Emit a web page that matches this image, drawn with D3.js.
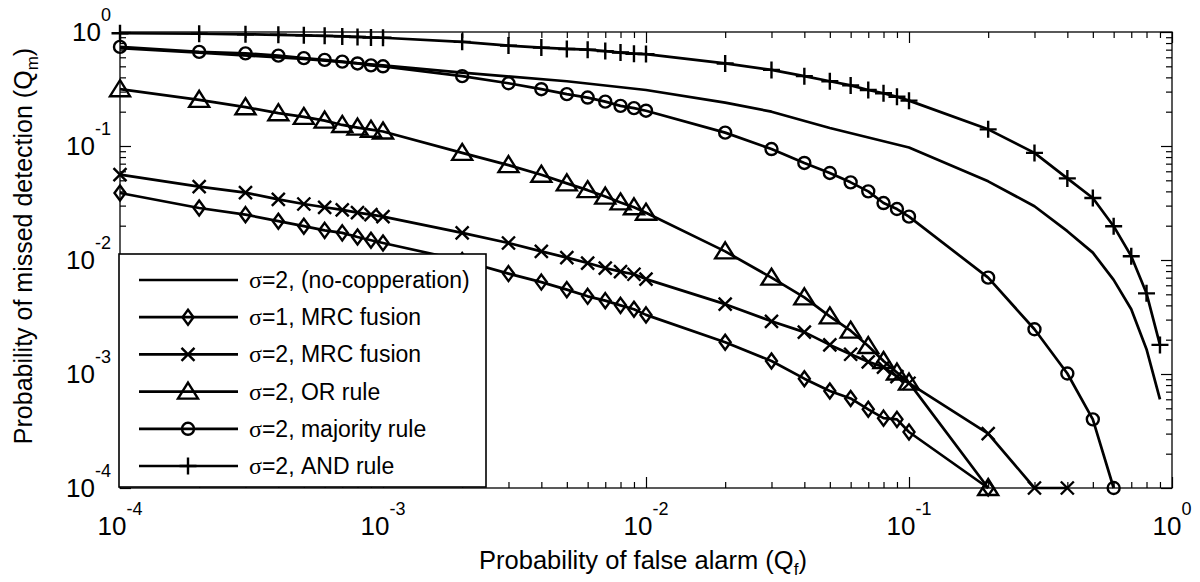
<!DOCTYPE html>
<html><head><meta charset="utf-8">
<script src="https://cdn.jsdelivr.net/npm/d3@7"></script>
<style>body{margin:0;background:#fff}svg{display:block}</style>
</head><body><svg id="c" width="1200" height="582"></svg>
<script>
// ---------- data ----------
const xGrid = [1e-4,2e-4,3e-4,4e-4,5e-4,6e-4,7e-4,8e-4,9e-4,
               1e-3,2e-3,3e-3,4e-3,5e-3,6e-3,7e-3,8e-3,9e-3,
               1e-2,2e-2,3e-2,4e-2,5e-2,6e-2,7e-2,8e-2,9e-2,
               0.1,0.2,0.3,0.4,0.5,0.6,0.7,0.8,0.9];
const xNoCoop = [1e-4,2e-4,5e-4,1e-3,2e-3,5e-3,1e-2,2e-2,3e-2,5e-2,0.1,0.2,0.3,0.4,0.5,0.6,0.7,0.8,0.9];
const yNoCoop = [0.72,0.66,0.58,0.51,0.44,0.37,0.31,0.24,0.2,0.144,0.097,0.049,0.0296,0.0179,0.0116,0.0067,0.0037,0.00165,0.0006];
const yMrc1 = [0.0387,0.0286,0.025,0.0219,0.0198,0.0182,0.0173,0.0159,0.0149,
               0.0141,0.0099,0.0076,0.0064,0.0055,0.0048,0.0044,0.004,0.0037,
               0.0033,0.0019,0.0013,0.00091,0.00071,0.00061,0.00049,0.00041,0.0004,
               0.00031,0.0001];
const yMrc2 = [0.056,0.044,0.039,0.034,0.031,0.029,0.0275,0.026,0.025,
               0.024,0.0173,0.0141,0.0119,0.0105,0.0094,0.0085,0.0079,0.0075,
               0.0068,0.0041,0.0029,0.00233,0.0018,0.00149,0.00128,0.00115,0.00095,
               0.00083,0.0003,0.0001,0.0001];
const yOr = [0.315,0.254,0.219,0.194,0.18,0.167,0.153,0.145,0.139,
             0.134,0.087,0.068,0.056,0.047,0.041,0.036,0.032,0.029,
             0.026,0.0119,0.007,0.0047,0.0032,0.0024,0.00176,0.0013,0.00103,
             0.00084,0.0001];
const yMaj = [0.74,0.67,0.65,0.62,0.59,0.57,0.55,0.53,0.51,
              0.50,0.41,0.355,0.315,0.285,0.266,0.245,0.225,0.215,
              0.204,0.131,0.094,0.071,0.058,0.048,0.040,0.0316,0.028,
              0.024,0.007,0.00247,0.00101,0.0004,0.0001];
const yAnd = [0.975,0.965,0.955,0.945,0.935,0.925,0.915,0.905,0.895,
              0.89,0.82,0.76,0.73,0.71,0.70,0.68,0.66,0.645,
              0.64,0.53,0.465,0.41,0.37,0.34,0.31,0.29,0.27,
              0.25,0.14,0.087,0.052,0.035,0.0198,0.0108,0.0051,0.0018];
const seriesNames = ["=2, (no-copperation)","=1, MRC fusion","=2, MRC fusion","=2, OR rule","=2, majority rule","=2, AND rule"];
const seriesMarkers = ["none","diamond","x","triangle","circle","plus"];
const majorTicks = [1e-4,1e-3,1e-2,1e-1,1];
const tickExps = ["-4","-3","-2","-1","0"];
const xTitle = "Probability of false alarm (Q";
const xTitleSub = "f";
const yTitle = "Probability of missed detection (Q";
const yTitleSub = "m";

// ---------- layout ----------
const L = 120, R = 1172, T = 32, B = 488;
const FONT = "'Liberation Sans', Arial, sans-serif";
const svg = d3.select("#c");
const x = d3.scaleLog().domain([1e-4, 1]).range([L, R]);
const y = d3.scaleLog().domain([1e-4, 1]).range([B, T]);

const minorTicks = [];
[1e-4,1e-3,1e-2,1e-1].forEach(d => { for (let k = 2; k <= 9; k++) minorTicks.push(d * k); });

function styleAxis(g) {
  g.select(".domain").remove();
  g.selectAll("line").attr("stroke", "#000").attr("stroke-width", 1.2);
}
svg.append("g").attr("transform", `translate(0,${B})`).call(d3.axisBottom(x).tickValues(majorTicks).tickSize(-11).tickFormat("")).call(styleAxis);
svg.append("g").attr("transform", `translate(0,${B})`).call(d3.axisBottom(x).tickValues(minorTicks).tickSize(-6).tickFormat("")).call(styleAxis);
svg.append("g").attr("transform", `translate(0,${T})`).call(d3.axisTop(x).tickValues(majorTicks).tickSize(-11).tickFormat("")).call(styleAxis);
svg.append("g").attr("transform", `translate(0,${T})`).call(d3.axisTop(x).tickValues(minorTicks).tickSize(-6).tickFormat("")).call(styleAxis);
svg.append("g").attr("transform", `translate(${L},0)`).call(d3.axisLeft(y).tickValues(majorTicks).tickSize(-11).tickFormat("")).call(styleAxis);
svg.append("g").attr("transform", `translate(${L},0)`).call(d3.axisLeft(y).tickValues(minorTicks).tickSize(-6).tickFormat("")).call(styleAxis);
svg.append("g").attr("transform", `translate(${R},0)`).call(d3.axisRight(y).tickValues(majorTicks).tickSize(-11).tickFormat("")).call(styleAxis);
svg.append("g").attr("transform", `translate(${R},0)`).call(d3.axisRight(y).tickValues(minorTicks).tickSize(-6).tickFormat("")).call(styleAxis);

svg.append("rect").attr("x", L).attr("y", T).attr("width", R - L).attr("height", B - T)
  .attr("fill", "none").attr("stroke", "#000").attr("stroke-width", 1.3);

// tick labels
const xl = svg.append("g").attr("font-family", FONT).attr("fill", "#000");
majorTicks.forEach((v, i) => {
  const t = xl.append("text").attr("x", x(v)).attr("y", 535).attr("text-anchor", "middle").attr("font-size", 26);
  t.append("tspan").text("10");
  t.append("tspan").attr("dy", -20).attr("font-size", 18).text(tickExps[i]);
  const u = xl.append("text").attr("x", 111).attr("y", y(v) + 9).attr("text-anchor", "end").attr("font-size", 26);
  u.append("tspan").text("10");
  u.append("tspan").attr("dy", -20).attr("font-size", 18).text(tickExps[i]);
});

// axis titles
const xt = svg.append("text").attr("x", 643).attr("y", 569).attr("text-anchor", "middle")
  .attr("font-family", FONT).attr("font-size", 25.5);
xt.append("tspan").text(xTitle);
xt.append("tspan").attr("font-size", 17).attr("dy", 6).text(xTitleSub);
xt.append("tspan").attr("dy", -6).text(")");
const yt = svg.append("text").attr("transform", "translate(32,246) rotate(-90)").attr("text-anchor", "middle")
  .attr("font-family", FONT).attr("font-size", 25);
yt.append("tspan").text(yTitle);
yt.append("tspan").attr("font-size", 17).attr("dy", 6).text(yTitleSub);
yt.append("tspan").attr("dy", -6).text(")");

// markers
const markerPath = {
  diamond: "M0,-7.5L5.5,0L0,7.5L-5.5,0Z",
  x: "M-6.5,-6.5L6.5,6.5M-6.5,6.5L6.5,-6.5",
  triangle: "M0,-9L10,7L-10,7Z",
  circle: "M6,0A6,6 0 1,1 -6,0A6,6 0 1,1 6,0Z",
  plus: "M-8.5,0L8.5,0M0,-8.5L0,8.5"
};

const seriesData = [
  {xs: xNoCoop, ys: yNoCoop},
  {xs: xGrid, ys: yMrc1},
  {xs: xGrid, ys: yMrc2},
  {xs: xGrid, ys: yOr},
  {xs: xGrid, ys: yMaj},
  {xs: xGrid, ys: yAnd}
];
const line = d3.line().x(d => x(d[0])).y(d => y(d[1]));
const plot = svg.append("g");
seriesData.forEach((s, i) => {
  const pts = s.ys.map((v, j) => [s.xs[j], v]);
  plot.append("path").attr("d", line(pts)).attr("fill", "none").attr("stroke", "#000")
    .attr("stroke-width", 2.7).attr("stroke-linejoin", "round");
  if (seriesMarkers[i] !== "none") {
    plot.selectAll(null).data(pts).enter().append("path")
      .attr("transform", d => `translate(${x(d[0])},${y(d[1])})`)
      .attr("d", markerPath[seriesMarkers[i]])
      .attr("fill", "none").attr("stroke", "#000").attr("stroke-width", 2.4);
  }
});

// legend
const lg = svg.append("g");
lg.append("rect").attr("x", 119).attr("y", 254).attr("width", 367).attr("height", 233)
  .attr("fill", "#fff").attr("stroke", "#000").attr("stroke-width", 1.6);
seriesNames.forEach((name, i) => {
  const cy = 280 + i * 37.2;
  lg.append("line").attr("x1", 139).attr("x2", 238).attr("y1", cy).attr("y2", cy)
    .attr("stroke", "#000").attr("stroke-width", 2.7);
  if (seriesMarkers[i] !== "none") {
    lg.append("path").attr("transform", `translate(188,${cy})`).attr("d", markerPath[seriesMarkers[i]])
      .attr("fill", "none").attr("stroke", "#000").attr("stroke-width", 2.4);
  }
  const t = lg.append("text").attr("x", 249).attr("y", cy + 8).attr("font-family", FONT).attr("font-size", 23);
  t.append("tspan").attr("font-family", "'Liberation Serif', 'Times New Roman', serif").attr("font-size", 24).text("σ");
  t.append("tspan").text(name);
});
</script>
</body></html>
